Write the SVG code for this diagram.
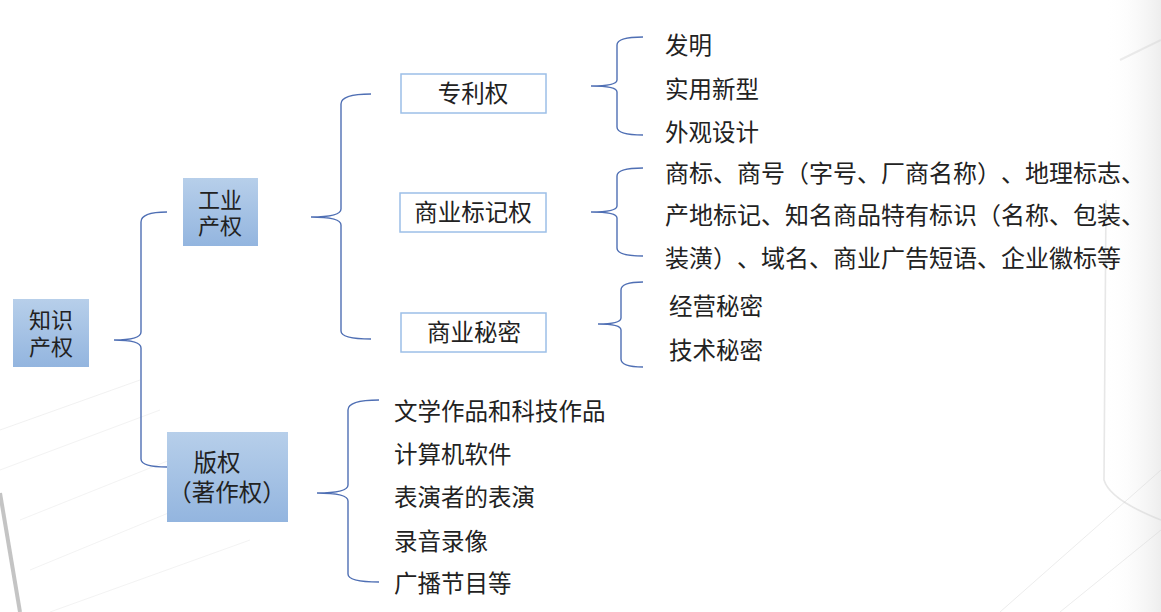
<svg xmlns="http://www.w3.org/2000/svg" width="1161" height="612" viewBox="0 0 1161 612">
<defs>
<linearGradient id="blueFill" x1="0" y1="0" x2="0" y2="1">
<stop offset="0" stop-color="#b7cfea"/>
<stop offset="1" stop-color="#93b5df"/>
</linearGradient>
<linearGradient id="rightShade" x1="0" y1="0" x2="1" y2="0">
<stop offset="0" stop-color="#ffffff" stop-opacity="0"/>
<stop offset="1" stop-color="#dcdcdc" stop-opacity="0.5"/>
</linearGradient>
<style>
text{font-family:"Noto Sans CJK SC","Noto Sans CJK JP",sans-serif;fill:#222;font-size:23.5px;text-spacing-trim:space-all}
.mid{text-anchor:middle}
.box2{font-size:22px}
.long{font-size:24px}
.solid{fill:url(#blueFill)}
.outline{fill:#ffffff;stroke:#9cbfe7;stroke-width:1.5}
.brace{fill:none;stroke:#4f6fb4;stroke-width:1.4}
.bg{fill:none;stroke:#cfcfcf}
</style>
</defs>
<rect width="1161" height="612" fill="#ffffff"/>
<g id="background">
<rect x="1105" y="0" width="56" height="612" fill="url(#rightShade)"/>
<path class="bg" d="M1106 200 L1104 480 Q1110 500 1161 520" stroke="#a8a8a8" stroke-width="1.6" opacity="0.5"/>
<path class="bg" d="M1120 60 L1161 40" stroke-width="2" opacity="0.4"/>
<path class="bg" d="M1000 612 L1161 470" opacity="0.4"/>
<path class="bg" d="M1060 612 L1161 530" opacity="0.4"/>
<path d="M0 493 L20 612" stroke="#8a8a8a" stroke-width="4" opacity="0.5" fill="none"/>
<path class="bg" d="M0 430 L140 380" opacity="0.3"/>
<path class="bg" d="M0 470 L160 410" opacity="0.25"/>
<path class="bg" d="M20 520 L170 460" opacity="0.25"/>
<path class="bg" d="M30 570 L200 500" opacity="0.25"/>
<path class="bg" d="M50 612 L250 540" opacity="0.25"/>
</g>
<g id="connectors">
<path class="brace" d="M167 212 Q141 212 141 222 L141 332 Q141 340 114 340 Q141 340 141 348 L141 459 Q141 467 167 467"/>
<path class="brace" d="M371 94 Q341 94 341 104 L341 209 Q341 217 311 217 Q341 217 341 225 L341 331 Q341 339 371 339"/>
<path class="brace" d="M379 400 Q348 400 348 410 L348 485 Q348 493 317 493 Q348 493 348 501 L348 574 Q348 582 379 582"/>
<path class="brace" d="M643 37 Q617 37 617 45 L617 80 Q617 86 591 86 Q617 86 617 92 L617 127 Q617 135 643 135"/>
<path class="brace" d="M643 168 Q617 168 617 176 L617 206 Q617 212 591 212 Q617 212 617 218 L617 248 Q617 256 643 256"/>
<path class="brace" d="M643 282 Q621 282 621 290 L621 318 Q621 324 598 324 Q621 324 621 330 L621 359 Q621 367 643 367"/>
</g>
<g id="node-root">
<rect class="solid" x="13" y="299" width="76" height="68"/>
<text class="mid box2" x="51" y="328">知识</text>
<text class="mid box2" x="51" y="355">产权</text>
</g>
<g id="node-industrial">
<rect class="solid" x="183" y="178" width="75" height="68"/>
<text class="mid box2" x="220" y="208">工业</text>
<text class="mid box2" x="220" y="234">产权</text>
</g>
<g id="node-copyright">
<rect class="solid" x="167" y="432" width="121" height="90"/>
<text class="mid" x="217" y="471">版权</text>
<text class="mid" x="227" y="501">（著作权）</text>
</g>
<g id="node-patent">
<rect class="outline" x="401" y="74" width="145" height="39"/>
<text class="mid" x="473" y="102">专利权</text>
</g>
<g id="node-trademark">
<rect class="outline" x="400" y="193" width="146" height="39"/>
<text class="mid" x="473" y="221">商业标记权</text>
</g>
<g id="node-secret">
<rect class="outline" x="401" y="313" width="145" height="39"/>
<text class="mid" x="474" y="341">商业秘密</text>
</g>
<g id="patent-items">
<text x="665" y="54">发明</text>
<text x="665" y="98">实用新型</text>
<text x="665" y="141">外观设计</text>
</g>
<g id="trademark-items">
<text class="long" x="665" y="182" textLength="480" lengthAdjust="spacing">商标、商号（字号、厂商名称）、地理标志、</text>
<text class="long" x="665" y="224" textLength="480" lengthAdjust="spacing">产地标记、知名商品特有标识（名称、包装、</text>
<text class="long" x="665" y="267" textLength="456" lengthAdjust="spacing">装潢）、域名、商业广告短语、企业徽标等</text>
</g>
<g id="secret-items">
<text x="669" y="315">经营秘密</text>
<text x="669" y="359">技术秘密</text>
</g>
<g id="copyright-items">
<text x="394" y="420">文学作品和科技作品</text>
<text x="394" y="463">计算机软件</text>
<text x="394" y="506">表演者的表演</text>
<text x="394" y="550">录音录像</text>
<text x="394" y="592">广播节目等</text>
</g>
</svg>
